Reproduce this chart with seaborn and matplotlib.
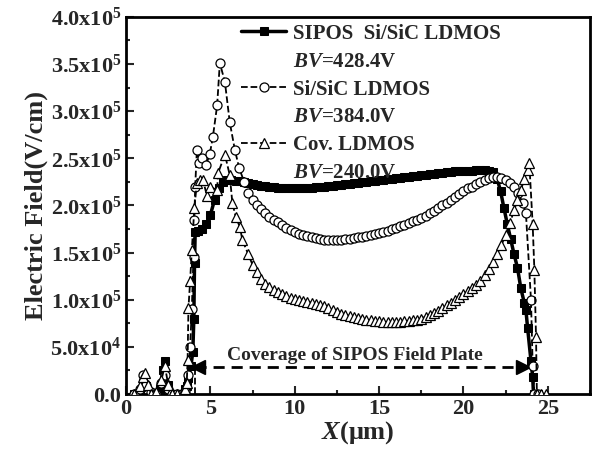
import matplotlib
matplotlib.use('Agg')
import matplotlib.pyplot as plt
from matplotlib.lines import Line2D
import seaborn as sns

# values in units of 1e5 V/cm
x_sipos = [0.5, 0.8, 1.0, 1.2, 1.5, 1.8, 2.0, 2.2, 2.3, 2.5, 2.7, 2.9, 3.1, 3.3, 3.5, 3.6, 3.7, 3.85, 3.96,
           4.02, 4.06, 4.1, 4.25, 4.5, 4.75, 5.0, 5.25, 5.5, 5.75,
           6.0, 6.25, 6.5, 6.75, 7.0, 7.25, 7.5, 7.75, 8.0, 8.25, 8.5, 8.75, 9.0, 9.25, 9.5, 9.75,
           10.0, 10.25, 10.5, 10.75, 11.0, 11.25, 11.5, 11.75, 12.0, 12.25, 12.5, 12.75, 13.0, 13.25, 13.5, 13.75,
           14.0, 14.25, 14.5, 14.75, 15.0, 15.25, 15.5, 15.75, 16.0, 16.25, 16.5, 16.75, 17.0, 17.25, 17.5, 17.75,
           18.0, 18.25, 18.5, 18.75, 19.0, 19.25, 19.5, 19.75, 20.0, 20.25, 20.5, 20.75, 21.0, 21.25, 21.5, 21.75,
           22.0, 22.2, 22.4, 22.6, 22.8, 23.0, 23.2, 23.4, 23.6, 23.7, 23.8, 24.0, 24.1, 24.15, 24.4]
e_sipos = [0.0, 0.03, 0.12, 0.08, 0.0, 0.0, 0.05, 0.25, 0.35, 0.1, 0.0, 0.0, 0.0, 0.0, 0.05, 0.09, 0.17, 0.3, 0.45,
           0.8, 1.39, 1.72, 1.73, 1.75, 1.8, 1.9, 2.06, 2.18, 2.25,
           2.27, 2.27, 2.26, 2.26, 2.25, 2.24, 2.23, 2.22, 2.21, 2.21, 2.20, 2.20, 2.19, 2.19, 2.19, 2.19,
           2.19, 2.19, 2.19, 2.19, 2.19, 2.20, 2.20, 2.20, 2.21, 2.21, 2.22, 2.22, 2.23, 2.23, 2.24, 2.24,
           2.25, 2.25, 2.26, 2.26, 2.27, 2.27, 2.28, 2.28, 2.29, 2.29, 2.30, 2.30, 2.31, 2.31, 2.32, 2.32,
           2.33, 2.33, 2.34, 2.34, 2.35, 2.35, 2.36, 2.36, 2.37, 2.37, 2.37, 2.38, 2.38, 2.38, 2.37, 2.35,
           2.28, 2.15, 1.97, 1.80, 1.64, 1.48, 1.34, 1.12, 0.97, 0.89, 0.70, 0.35, 0.18, 0.0, 0.0]

x_sisic = [0.5, 0.8, 1.0, 1.2, 1.5, 1.8, 2.1, 2.3, 2.5, 2.7, 3.0, 3.3, 3.5, 3.7, 3.8, 3.9, 4.0, 4.05, 4.1,
           4.2, 4.35, 4.5, 4.75, 4.97, 5.15, 5.4, 5.56, 5.86, 6.15, 6.45, 6.7,
           7.0, 7.25, 7.5, 7.75, 8.0, 8.25, 8.5, 8.75, 9.0, 9.25, 9.5, 9.75,
           10.0, 10.25, 10.5, 10.75, 11.0, 11.25, 11.5, 11.75, 12.0, 12.25, 12.5, 12.75, 13.0, 13.25, 13.5, 13.75,
           14.0, 14.25, 14.5, 14.75, 15.0, 15.25, 15.5, 15.75, 16.0, 16.25, 16.5, 16.75, 17.0, 17.25, 17.5, 17.75,
           18.0, 18.25, 18.5, 18.75, 19.0, 19.25, 19.5, 19.75, 20.0, 20.25, 20.5, 20.75, 21.0, 21.25, 21.5, 21.75,
           22.0, 22.25, 22.5, 22.75, 23.0, 23.25, 23.5, 23.7, 24.0, 24.1, 24.2, 24.4]
e_sisic = [0.0, 0.05, 0.2, 0.1, 0.02, 0.0, 0.12, 0.2, 0.05, 0.0, 0.0, 0.0, 0.03, 0.2, 0.5, 0.9, 1.45, 1.85, 2.2,
           2.59, 2.45, 2.5, 2.43, 2.55, 2.73, 3.06, 3.51, 3.31, 2.88, 2.59, 2.4,
           2.25, 2.13, 2.06, 2.00, 1.96, 1.92, 1.88, 1.85, 1.82, 1.79, 1.76, 1.74,
           1.72, 1.70, 1.69, 1.68, 1.66, 1.65, 1.64, 1.63, 1.63, 1.63, 1.63, 1.63, 1.64, 1.64, 1.65, 1.66,
           1.67, 1.68, 1.69, 1.70, 1.71, 1.72, 1.73, 1.75, 1.76, 1.78, 1.79, 1.81, 1.83, 1.85, 1.87, 1.89,
           1.92, 1.94, 1.97, 2.00, 2.03, 2.06, 2.09, 2.12, 2.15, 2.18, 2.20, 2.23, 2.25, 2.27, 2.29, 2.30,
           2.30, 2.29, 2.27, 2.24, 2.20, 2.13, 2.03, 1.92, 1.0, 0.3, 0.0, 0.0]

x_cov = [0.5, 0.8, 1.0, 1.1, 1.3, 1.5, 1.8, 2.1, 2.3, 2.5, 2.7, 3.0, 3.3, 3.5, 3.6, 3.65, 3.7, 3.8, 3.9, 4.05,
         4.2, 4.4, 4.56, 4.8, 5.0, 5.4, 5.45, 5.86, 6.15, 6.3, 6.5, 6.75, 6.9,
         7.25, 7.5, 7.75, 8.0, 8.25, 8.5, 8.75, 9.0, 9.25, 9.5, 9.75,
         10.0, 10.25, 10.5, 10.75, 11.0, 11.25, 11.5, 11.75, 12.0, 12.25, 12.5, 12.75, 13.0, 13.25, 13.5, 13.75,
         14.0, 14.25, 14.5, 14.75, 15.0, 15.25, 15.5, 15.75, 16.0, 16.25, 16.5, 16.75, 17.0, 17.25, 17.5, 17.75,
         18.0, 18.25, 18.5, 18.75, 19.0, 19.25, 19.5, 19.75, 20.0, 20.25, 20.5, 20.75, 21.0, 21.25, 21.5, 21.75,
         22.0, 22.25, 22.5, 22.75, 23.0, 23.2, 23.4, 23.6, 23.8, 23.9, 24.1, 24.2, 24.3, 24.35, 24.6, 24.9]
e_cov = [0.0, 0.08, 0.18, 0.22, 0.1, 0.0, 0.02, 0.15, 0.3, 0.1, 0.0, 0.0, 0.0, 0.05, 0.12, 0.36, 0.91, 1.2, 1.53, 1.97,
         2.24, 2.27, 2.27, 2.1, 2.2, 2.16, 2.34, 2.54, 2.32, 2.03, 1.88, 1.77, 1.63,
         1.48, 1.37, 1.29, 1.22, 1.17, 1.13, 1.10, 1.08, 1.06, 1.04, 1.02,
         1.01, 1.00, 0.99, 0.98, 0.97, 0.95, 0.94, 0.93, 0.91, 0.89, 0.87, 0.85, 0.84, 0.83, 0.82, 0.81,
         0.80, 0.79, 0.78, 0.77, 0.77, 0.76, 0.76, 0.76, 0.76, 0.76, 0.77, 0.77, 0.78, 0.79, 0.80, 0.82,
         0.84, 0.86, 0.88, 0.91, 0.94, 0.97, 1.00, 1.03, 1.06, 1.09, 1.12, 1.16, 1.20, 1.26, 1.33, 1.40,
         1.49, 1.58, 1.69, 1.81, 1.95, 2.06, 2.16, 2.28, 2.38, 2.45, 1.8, 1.32, 0.6, 0.0, 0.0, 0.0]

labels = ['SIPOS  Si/SiC LDMOS', 'Si/SiC LDMOS', 'Cov. LDMOS']
bv_labels = [r'$\mathit{BV}$=428.4V', r'$\mathit{BV}$=384.0V', r'$\mathit{BV}$=240.0V']

yticks = [0, 0.5, 1.0, 1.5, 2.0, 2.5, 3.0, 3.5, 4.0]
ytick_labels = ['0.0', '5.0x10$^{4}$', '1.0x10$^{5}$', '1.5x10$^{5}$', '2.0x10$^{5}$',
                '2.5x10$^{5}$', '3.0x10$^{5}$', '3.5x10$^{5}$', '4.0x10$^{5}$']
xticks = [0, 5, 10, 15, 20, 25]

sns.set_theme(style='ticks')
plt.rcParams['font.family'] = ['Liberation Serif', 'DejaVu Serif']
plt.rcParams['font.weight'] = 'bold'
plt.rcParams['mathtext.fontset'] = 'custom'
plt.rcParams['mathtext.default'] = 'bf'
plt.rcParams['mathtext.bf'] = 'Liberation Serif:bold'
plt.rcParams['mathtext.it'] = 'Liberation Serif:italic:bold'
plt.rcParams['mathtext.rm'] = 'Liberation Serif:bold'

fig = plt.figure(figsize=(5.93, 4.55), dpi=100)
ax = fig.add_axes([0.2125, 0.134, 0.7825, 0.829])

sns.lineplot(x=x_sipos, y=e_sipos, ax=ax, color='black', linestyle='-', linewidth=2.5,
             marker='s', markersize=6.3, markerfacecolor='black', markeredgecolor='black',
             label=labels[0], zorder=3)
sns.lineplot(x=x_sisic, y=e_sisic, ax=ax, color='black', linestyle='--', linewidth=1.3,
             marker='o', markersize=6.5, markerfacecolor='white', markeredgecolor='black',
             markeredgewidth=0.9, label=labels[1], zorder=4)
sns.lineplot(x=x_cov, y=e_cov, ax=ax, color='black', linestyle='--', linewidth=1.3,
             marker='^', markersize=6.5, markerfacecolor='white', markeredgecolor='black',
             markeredgewidth=0.9, label=labels[2], zorder=5)

# coverage arrow
ax.plot([4.1, 23.7], [0.286, 0.286], color='black', linestyle='--', linewidth=2, dashes=(4, 2.5))
ax.plot([4.25], [0.286], marker='<', color='black', markersize=10, linestyle='none')
ax.plot([23.55], [0.286], marker='>', color='black', markersize=10, linestyle='none')
ax.plot([4.1, 4.1], [0.0, 0.27], color='black', linestyle='--', linewidth=1.3)
ax.text(13.55, 0.41, 'Coverage of SIPOS Field Plate', ha='center', va='center',
        fontsize=14, fontweight='bold')

handles, _ = ax.get_legend_handles_labels()
blank = Line2D([], [], linestyle='none', marker=None)
leg_handles = [handles[0], blank, handles[1], blank, handles[2], blank]
leg_labels = [labels[0], bv_labels[0], labels[1], bv_labels[1], labels[2], bv_labels[2]]
ax.legend(leg_handles, leg_labels, loc='upper left', bbox_to_anchor=(0.22, 1.015), frameon=False,
          handlelength=2.2, handletextpad=0.3, labelspacing=0.38, borderaxespad=0.2,
          prop={'weight': 'bold', 'size': 15})

ax.set_xlim(0, 27.5)
ax.set_ylim(0, 4.0)
ax.set_xticks(xticks)
ax.set_xticks([2.5, 7.5, 12.5, 17.5, 22.5, 27.5], minor=True)
ax.set_yticks(yticks)
ax.set_yticklabels(ytick_labels)
ax.set_yticks([0.25, 0.75, 1.25, 1.75, 2.25, 2.75, 3.25, 3.75], minor=True)
ax.tick_params(which='both', direction='in', width=1.5, labelsize=16)
ax.tick_params(which='major', length=6)
ax.tick_params(which='minor', length=3)
for s in ax.spines.values():
    s.set_linewidth(2)
    s.set_color('black')

ax.set_xlabel(r'$\mathit{X}$(μm)', fontsize=19, fontweight='bold', labelpad=0)
ax.set_ylabel('Electric Field(V/cm)', fontsize=19, fontweight='bold', labelpad=2)

fig.savefig('out.png', dpi=100)
